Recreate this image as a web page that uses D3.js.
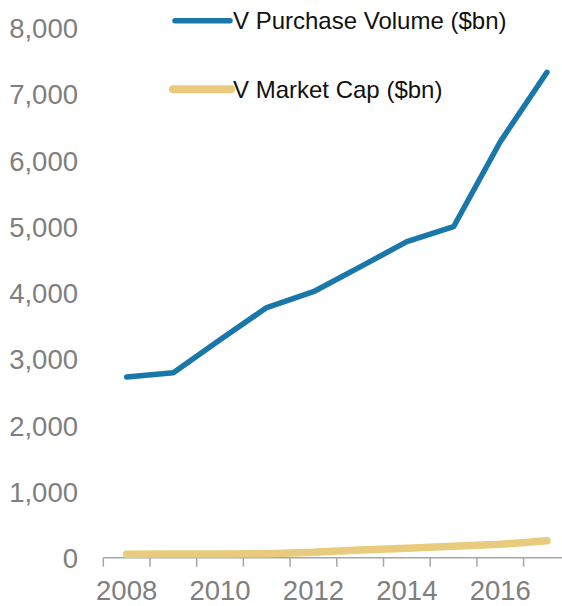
<!DOCTYPE html>
<html>
<head>
<meta charset="utf-8">
<script src="https://cdn.jsdelivr.net/npm/d3@7"></script>
<style>
  body { margin: 0; background: #fff; }
  svg { display: block; font-family: "Liberation Sans", Arial, sans-serif; }
</style>
</head>
<body>
<div id="chart"></div>
<script>
const years = [2008, 2009, 2010, 2011, 2012, 2013, 2014, 2015, 2016, 2017];
const purchase_volume = [2728, 2792, 3290, 3776, 4015, 4390, 4770, 4996, 6279, 7327];
const market_cap = [51, 55, 56, 60, 81, 118, 144, 172, 202, 257];
const y_ticks = [0, 1000, 2000, 3000, 4000, 5000, 6000, 7000, 8000];
const x_labels = [2008, 2010, 2012, 2014, 2016];

const series_names = ["V Purchase Volume ($bn)", "V Market Cap ($bn)"];

const width = 562;
const height = 606;

const blue = "#1a77a9";
const gold = "#e9cb7d";
const grey = "#7f7f7f";

const svg = d3.select("#chart")
  .append("svg")
  .attr("width", width)
  .attr("height", height);

// band per year, ticks sit on the band edges
const x = d3.scaleBand()
  .domain(years)
  .range([103.3, 570.3])
  .paddingInner(0)
  .paddingOuter(0);

const y = d3.scaleLinear()
  .domain([0, 8000])
  .range([557.7, 27.7]);

const cx = (d) => x(d) + x.bandwidth() / 2;

// y labels (no axis line)
const yaxis = d3.axisLeft(y)
  .tickValues(y_ticks)
  .tickSize(0)
  .tickPadding(0)
  .tickFormat(d3.format(","));

svg.append("g")
  .attr("transform", "translate(78,0)")
  .call(yaxis)
  .call(g => g.select(".domain").remove())
  .selectAll("text")
  .attr("fill", grey)
  .attr("font-size", 27.5)
  .attr("font-family", "Liberation Sans, Arial, sans-serif")
  .attr("dy", "0.36em");

// x axis line + boundary ticks
const xg = svg.append("g");

xg.append("line")
  .attr("x1", x(years[0]))
  .attr("x2", width)
  .attr("y1", y(0))
  .attr("y2", y(0))
  .attr("stroke", "#a6a6a6")
  .attr("stroke-width", 1.5);

const edges = years.map((d) => x(d)).concat([x(years[years.length - 1]) + x.bandwidth()]);

xg.selectAll("line.tick")
  .data(edges)
  .enter()
  .append("line")
  .attr("class", "tick")
  .attr("x1", (d) => d)
  .attr("x2", (d) => d)
  .attr("y1", y(0))
  .attr("y2", y(0) + 9)
  .attr("stroke", "#a6a6a6")
  .attr("stroke-width", 1.5);

xg.selectAll("text")
  .data(x_labels)
  .enter()
  .append("text")
  .attr("x", (d) => cx(d))
  .attr("y", 599.8)
  .attr("text-anchor", "middle")
  .attr("fill", grey)
  .attr("font-size", 27.5)
  .text((d) => d);

// lines
const line = (vals) => d3.line()
  .x((d, i) => cx(years[i]))
  .y((d) => y(d))(vals);

svg.append("path")
  .attr("d", line(market_cap))
  .attr("fill", "none")
  .attr("stroke", gold)
  .attr("stroke-width", 7.5)
  .attr("stroke-linecap", "round")
  .attr("stroke-linejoin", "round");

svg.append("path")
  .attr("d", line(purchase_volume))
  .attr("fill", "none")
  .attr("stroke", blue)
  .attr("stroke-width", 5.5)
  .attr("stroke-linecap", "round")
  .attr("stroke-linejoin", "round");

// legend
const legend = [
  { name: series_names[0], color: blue, w: 5.5, x1: 175, x2: 230, y: 20.7, base: 28.5 },
  { name: series_names[1], color: gold, w: 8, x1: 173, x2: 231, y: 89.3, base: 98 }
];

const lg = svg.selectAll("g.legend")
  .data(legend)
  .enter()
  .append("g")
  .attr("class", "legend");

lg.append("line")
  .attr("x1", (d) => d.x1)
  .attr("x2", (d) => d.x2)
  .attr("y1", (d) => d.y)
  .attr("y2", (d) => d.y)
  .attr("stroke", (d) => d.color)
  .attr("stroke-width", (d) => d.w)
  .attr("stroke-linecap", "round");

lg.append("text")
  .attr("x", 233)
  .attr("y", (d) => d.base)
  .attr("font-size", 24)
  .attr("fill", "#111")
  .text((d) => d.name);
</script>
</body>
</html>
